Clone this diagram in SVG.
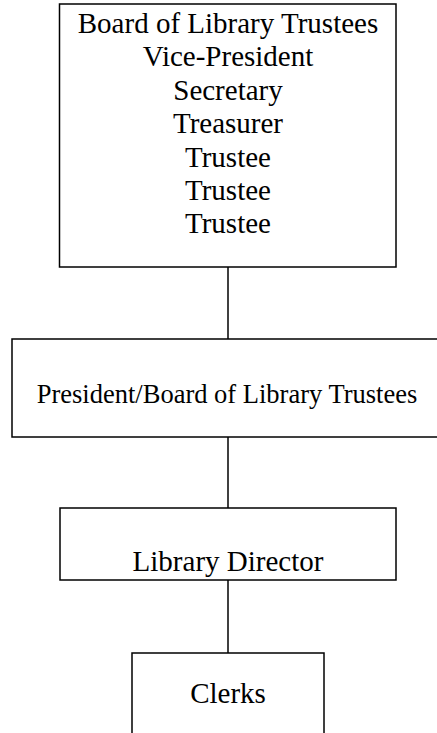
<svg xmlns="http://www.w3.org/2000/svg" width="437" height="733" viewBox="0 0 437 733">
<style>
.box{fill:#fff;stroke:#000;stroke-width:1.5}
.ln{stroke:#000;stroke-width:1.5;fill:none}
.t{font-family:"Liberation Serif","Times New Roman",serif;font-size:29px;fill:#000;text-anchor:middle}
.t2{font-family:"Liberation Serif","Times New Roman",serif;font-size:26.5px;fill:#000;text-anchor:middle}
</style>
<rect width="437" height="733" fill="#fff"/>
<g id="connectors">
<line class="ln" x1="228" y1="267" x2="228" y2="339"/>
<line class="ln" x1="228" y1="437" x2="228" y2="508"/>
<line class="ln" x1="228" y1="580" x2="228" y2="653"/>
</g>
<g id="board">
<rect class="box" x="59.5" y="4" width="336.5" height="263"/>
<text class="t" x="228" y="33">Board of Library Trustees</text>
<text class="t" x="228" y="66.4">Vice-President</text>
<text class="t" x="228" y="99.8">Secretary</text>
<text class="t" x="228" y="133.2">Treasurer</text>
<text class="t" x="228" y="166.6">Trustee</text>
<text class="t" x="228" y="200">Trustee</text>
<text class="t" x="228" y="233.4">Trustee</text>
</g>
<g id="president">
<rect class="box" x="12" y="339" width="432" height="98"/>
<text class="t2" x="227" y="403">President/Board of Library Trustees</text>
</g>
<g id="director">
<rect class="box" x="60" y="508" width="336" height="72"/>
<text class="t" x="228" y="571">Library Director</text>
</g>
<g id="clerks">
<rect class="box" x="132" y="653" width="192" height="90"/>
<text class="t" x="228" y="703">Clerks</text>
</g>
</svg>
